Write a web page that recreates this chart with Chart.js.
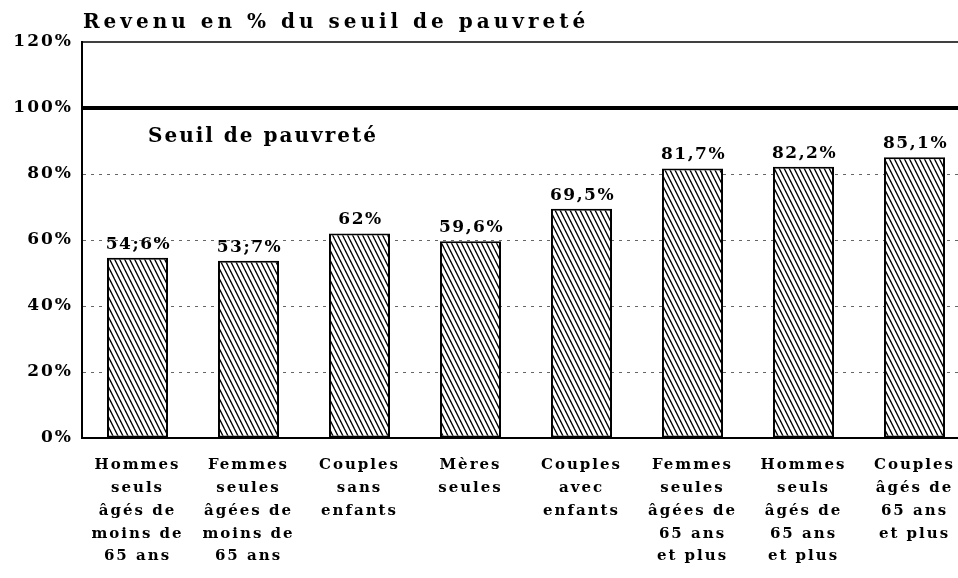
<!DOCTYPE html>
<html>
<head>
<meta charset="utf-8">
<script src="https://cdn.jsdelivr.net/npm/chart.js@4"></script>
<style>
  html, body { margin: 0; padding: 0; background: #fff; overflow: hidden; }
  #wrap { width: 1000px; height: 578px; }
</style>
</head>
<body>
<div id="wrap"><canvas id="myChart" width="1000" height="578"></canvas></div>
<script>
const categories = [
    ["Hommes", "seuls", "âgés de", "moins de", "65 ans"],
    ["Femmes", "seules", "âgées de", "moins de", "65 ans"],
    ["Couples", "sans", "enfants"],
    ["Mères", "seules"],
    ["Couples", "avec", "enfants"],
    ["Femmes", "seules", "âgées de", "65 ans", "et plus"],
    ["Hommes", "seuls", "âgés de", "65 ans", "et plus"],
    ["Couples", "âgés de", "65 ans", "et plus"]
]
const valeurs = [54.6, 53.7, 62, 59.6, 69.5, 81.7, 82.2, 85.1]
const etiquettes = ["54;6%", "53;7%", "62%", "59,6%", "69,5%", "81,7%", "82,2%", "85,1%"]
const seuil = 100
const titre = "Revenu en % du seuil de pauvreté"
const titreSeuil = "Seuil de pauvreté"

const serif = "'DejaVu Serif', 'Liberation Serif', serif"

function hachures() {
    const w = 5, h = 10
    const c = document.createElement("canvas")
    c.width = w; c.height = h
    const g = c.getContext("2d")
    g.fillStyle = "#fff"
    g.fillRect(0, 0, w, h)
    g.strokeStyle = "#000"
    g.lineWidth = 1.3
    for (let k = -1; k <= 1; k++) {
        g.beginPath()
        g.moveTo(k * w - 1, -2)
        g.lineTo(k * w + w + 1, h + 2)
        g.stroke()
    }
    return document.getElementById("myChart").getContext("2d").createPattern(c, "repeat")
}

const espacement = {
    id: "espacement",
    beforeLayout(chart) { chart.ctx.letterSpacing = "2px" },
    beforeDraw(chart) { chart.ctx.letterSpacing = "2px" }
}

const annotations = {
    id: "annotations",
    afterDatasetsDraw(chart) {
        const ctx = chart.ctx
        const y = chart.scales.y
        const area = chart.chartArea
        ctx.save()
        // ligne du seuil
        ctx.strokeStyle = "#000"
        ctx.lineWidth = 4
        ctx.beginPath()
        ctx.moveTo(area.left, y.getPixelForValue(seuil))
        ctx.lineTo(area.right, y.getPixelForValue(seuil))
        ctx.stroke()
        ctx.lineWidth = 1.5
        ctx.beginPath()
        ctx.moveTo(area.left, y.getPixelForValue(y.max))
        ctx.lineTo(area.right, y.getPixelForValue(y.max))
        ctx.stroke()

        ctx.fillStyle = "#000"
        ctx.textAlign = "left"
        ctx.textBaseline = "alphabetic"
        ctx.letterSpacing = "4px"
        ctx.font = "bold 20px " + serif
        ctx.fillText(titre, area.left + 1, 28)
        ctx.letterSpacing = "2px"
        ctx.fillText(titreSeuil, area.left + 66, y.getPixelForValue(seuil) + 34)

        // etiquettes des barres
        ctx.letterSpacing = "1.5px"
        ctx.font = "bold 17px " + serif
        ctx.textAlign = "center"
        const meta = chart.getDatasetMeta(0)
        meta.data.forEach(function(bar, i) {
            ctx.fillText(etiquettes[i], bar.x + 1, bar.y - 9)
        })
        ctx.restore()
    }
}

const ctx = document.getElementById("myChart").getContext("2d")

const config = {
    type: "bar",
    data: {
        labels: categories,
        datasets: [{
            data: valeurs,
            backgroundColor: hachures(),
            borderColor: "#000",
            borderWidth: 2,
            borderSkipped: false,
            barPercentage: 0.55,
            categoryPercentage: 1
        }]
    },
    options: {
        responsive: false,
        animation: false,
        devicePixelRatio: 1,
        layout: { padding: { top: 42, right: 30, left: 0, bottom: 0 } },
        plugins: {
            legend: { display: false },
            title: { display: false },
            tooltip: { enabled: false }
        },
        scales: {
            x: {
                grid: { display: false },
                border: { display: true, color: "#000", width: 2 },
                ticks: {
                    color: "#000",
                    font: { family: serif, weight: "bold", size: 15, lineHeight: 1.52 },
                    maxRotation: 0,
                    autoSkip: false,
                    padding: 8
                },
                afterFit(scale) { scale.height = 140 }
            },
            y: {
                min: 0,
                max: 120,
                border: { display: true, color: "#000", width: 2, dash: [3, 5] },
                grid: {
                    color: function(c) {
                        const v = c.tick ? c.tick.value : 0
                        if (v === 0 || v === seuil || v === 120) return "transparent"
                        return "#666"
                    },
                    lineWidth: 1,
                    drawTicks: false
                },
                ticks: {
                    stepSize: 20,
                    color: "#000",
                    padding: 9,
                    font: { family: serif, weight: "bold", size: 17 },
                    callback: function(v) { return v + "%" }
                },
                afterFit(scale) { scale.width = 82 }
            }
        }
    },
    plugins: [espacement, annotations]
}

var myChart = new Chart(ctx, config)
</script>
</body>
</html>
